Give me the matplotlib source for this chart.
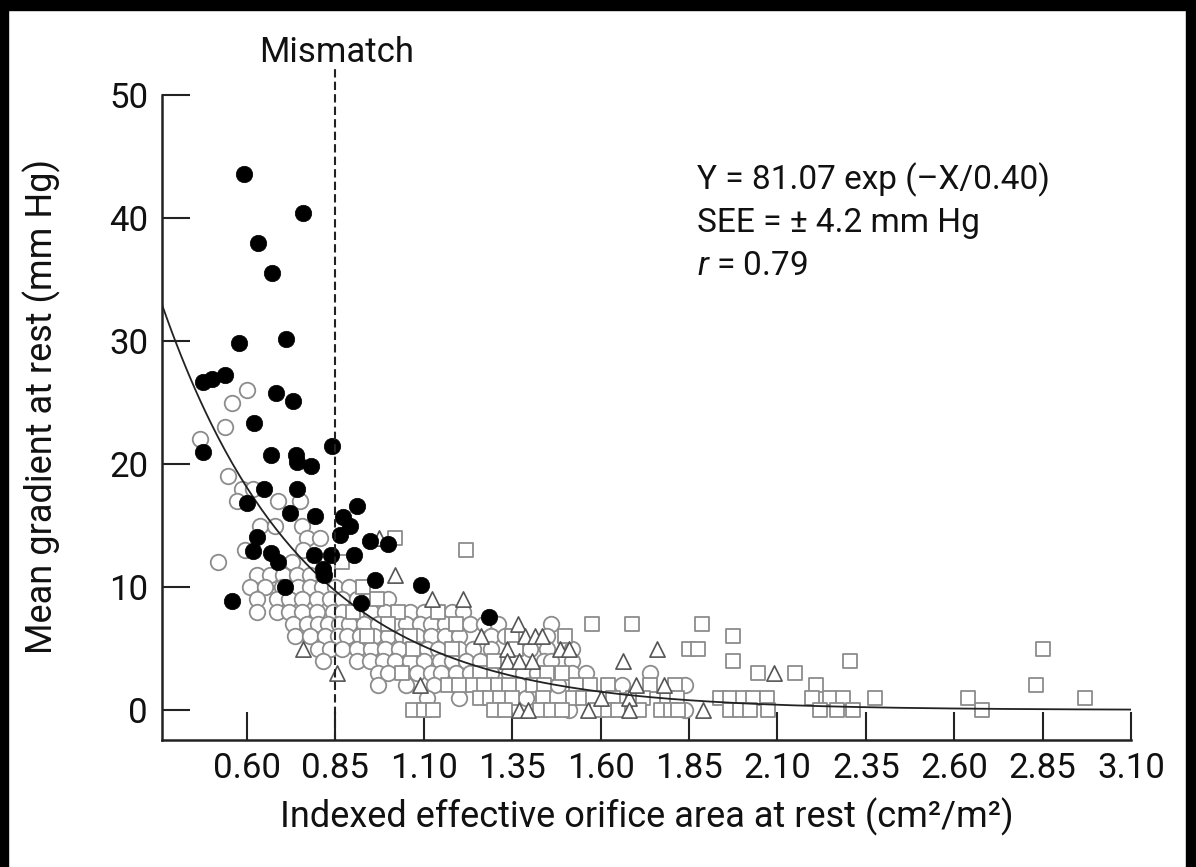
import numpy as np
import matplotlib
matplotlib.use("Agg")
import matplotlib.pyplot as plt
from matplotlib.patches import Rectangle

FONT = ['Roboto', 'DejaVu Sans']
plt.rcParams['font.family'] = FONT
plt.rcParams['mathtext.fontset'] = 'custom'
plt.rcParams['mathtext.rm'] = 'Roboto'
plt.rcParams['mathtext.it'] = 'Roboto:italic'

# ---------------- data ----------------
x_ticks = [0.60, 0.85, 1.10, 1.35, 1.60, 1.85, 2.10, 2.35, 2.60, 2.85, 3.10]
y_ticks = [0, 10, 20, 30, 40, 50]

fit_a = 81.07
fit_b = 0.40
mismatch_x = 0.85

# filled circles (mismatch patients)
filled_x = [0.592, 0.758, 0.631, 0.671, 0.577, 0.710, 0.476, 0.501, 0.538,
            0.682, 0.730, 0.620, 0.476, 0.840, 0.668, 0.739, 0.741, 0.781,
            0.648, 0.741, 0.600, 0.722, 0.792, 0.911, 0.872, 0.891, 0.863,
            0.948, 0.999, 0.628, 0.617, 0.668, 0.688, 0.789, 0.838, 0.903,
            0.815, 0.818, 0.707, 0.962, 1.092, 0.558, 0.922, 1.284]
filled_y = [43.6, 40.4, 38.0, 35.5, 29.8, 30.2, 26.7, 26.9, 27.2,
            25.8, 25.1, 23.3, 21.0, 21.5, 20.7, 20.7, 20.2, 19.8,
            18.0, 18.0, 16.8, 16.0, 15.8, 16.6, 15.7, 15.0, 14.2,
            13.7, 13.5, 14.1, 12.9, 12.8, 12.0, 12.6, 12.6, 12.6,
            11.5, 11.0, 10.0, 10.6, 10.2, 8.9, 8.7, 7.6]

# open circles: gradient row -> EOAi values
circle_rows = {
    26: [0.600], 25: [0.558], 23: [0.538], 22: [0.467], 19: [0.546],
    18: [0.586, 0.617], 17: [0.572, 0.750, 0.688],
    15: [0.637, 0.679, 0.756], 14: [0.770, 0.806],
    13: [0.594, 0.758], 12: [0.518, 0.727],
    11: [0.628, 0.665, 0.702, 0.741, 0.778, 0.815],
    10: [0.608, 0.651, 0.699, 0.744, 0.778, 0.812, 0.850, 0.890],
    9: [0.628, 0.685, 0.720, 0.757, 0.797, 0.835, 0.870, 0.910, 1.000],
    8: [0.628, 0.685, 0.720, 0.757, 0.797, 0.843, 0.870, 0.910, 0.950,
        0.990, 1.060, 1.100, 1.180, 1.210],
    7: [0.730, 0.770, 0.800, 0.830, 0.860, 0.890, 0.930, 0.970, 1.030,
        1.050, 1.090, 1.120, 1.160, 1.230, 1.270, 1.310, 1.460],
    6: [0.736, 0.778, 0.820, 0.857, 0.883, 0.920, 0.960, 1.000, 1.040,
        1.080, 1.120, 1.160, 1.200, 1.290, 1.330, 1.450],
    5: [0.800, 0.835, 0.870, 0.910, 0.950, 0.990, 1.030, 1.110, 1.140,
        1.200, 1.240, 1.290, 1.400, 1.450, 1.520],
    4: [0.815, 0.911, 0.948, 0.985, 1.020, 1.060, 1.100, 1.146, 1.180,
        1.220, 1.260, 1.440, 1.460, 1.520],
    3: [0.970, 1.000, 1.080, 1.120, 1.150, 1.190, 1.230, 1.290, 1.340,
        1.380, 1.420, 1.520, 1.560, 1.740],
    2: [0.970, 1.050, 1.130, 1.290, 1.370, 1.480, 1.660, 1.840],
    1: [1.110, 1.200, 1.390],
    0: [1.510, 1.840],
}

# open squares
square_rows = {
    14: [1.019], 13: [1.219], 12: [0.870], 10: [0.928], 9: [0.968],
    8: [0.900, 1.027, 1.140],
    7: [1.000, 1.190, 1.576, 1.690, 1.887],
    6: [0.940, 1.060, 1.350, 1.500, 1.975],
    5: [1.070, 1.180, 1.360, 1.850, 1.875, 2.850],
    4: [1.300, 1.975, 2.305],
    3: [1.040, 1.260, 1.450, 1.490, 2.045, 2.150],
    2: [1.170, 1.200, 1.240, 1.270, 1.310, 1.340, 1.410, 1.440, 1.530,
        1.570, 1.620, 1.740, 1.810, 2.210, 2.830],
    1: [1.259, 1.287, 1.315, 1.350, 1.437, 1.522, 1.550, 1.578,
        1.635, 1.692, 1.720, 1.788, 1.816, 1.938, 1.966, 2.003, 2.031,
        2.070, 2.198, 2.249, 2.286, 2.376, 2.640, 2.970],
    0: [1.070, 1.100, 1.126, 1.300, 1.330, 1.430, 1.460, 1.490, 1.590,
        1.620, 1.650, 1.710, 1.770, 1.800, 1.820, 1.966, 1.994, 2.022,
        2.073, 2.220, 2.268, 2.314, 2.680],
}

# open triangles
triangle_rows = {
    14: [0.973], 11: [1.020], 9: [1.123, 1.210], 7: [1.366],
    6: [1.262, 1.386, 1.414, 1.434],
    5: [0.758, 1.335, 1.485, 1.510, 1.760],
    4: [1.335, 1.370, 1.405, 1.663],
    3: [0.855, 2.090],
    2: [1.090, 1.700, 1.780],
    1: [1.600, 1.680],
    0: [1.370, 1.395, 1.565, 1.680, 1.890],
}


def flatten(rows):
    xs, ys = [], []
    for yv, xl in rows.items():
        for xv in xl:
            xs.append(xv)
            ys.append(yv)
    return xs, ys


# ---------------- figure ----------------
W, H = 1196, 867
fig = plt.figure(figsize=(W / 100, H / 100), dpi=100)
fig.patch.set_facecolor('white')

ybot = -30 / 12.3
ytop = (710 - 58) / 12.3
ax = fig.add_axes([162 / W, 1 - 740 / H, (1131 - 162) / W, (740 - 58) / H])
ax.set_xlim(0.36, 3.10)
ax.set_ylim(ybot, ytop)

cx, cy = flatten(circle_rows)
sx, sy = flatten(square_rows)
tx, ty = flatten(triangle_rows)

ax.scatter(cx, cy, s=125, marker='o', facecolors='white',
           edgecolors='#8c8c8c', linewidths=1.3, zorder=2, clip_on=False)
ax.scatter(sx, sy, s=100, marker='s', facecolors='white',
           edgecolors='#8c8c8c', linewidths=1.3, zorder=2, clip_on=False)
ax.scatter(tx, ty, s=120, marker='^', facecolors='white',
           edgecolors='#555555', linewidths=1.2, zorder=3, clip_on=False)

xc = np.linspace(0.36, 3.10, 400)
ax.plot(xc, fit_a * np.exp(-xc / fit_b), color='#222222', lw=1.3, zorder=4)

ax.scatter(filled_x, filled_y, s=140, marker='o', facecolors='black',
           edgecolors='black', linewidths=0.5, zorder=5)

ax.plot([mismatch_x, mismatch_x], [ybot, (710 - 66) / 12.3], color='#222222',
        lw=1.5, ls=(0, (4, 2)), zorder=6, clip_on=False)

for s in ['top', 'right']:
    ax.spines[s].set_visible(False)
for s in ['left', 'bottom']:
    ax.spines[s].set_linewidth(1.8)
    ax.spines[s].set_color('#222222')
ax.spines['left'].set_bounds(ybot, 50)

ax.set_xticks(x_ticks)
ax.set_xticklabels([f"{v:.2f}" for v in x_ticks])
ax.set_yticks(y_ticks)
ax.set_yticklabels([str(v) for v in y_ticks])
ax.tick_params(axis='both', direction='in', length=20, width=1.5,
               color='#222222', labelsize=25, labelcolor='#111111')
ax.tick_params(axis='x', pad=9)
ax.tick_params(axis='y', pad=10)

ax.set_xlabel("Indexed effective orifice area at rest (cm²/m²)", fontsize=26,
              color='#111111', labelpad=9)
ax.set_ylabel("Mean gradient at rest (mm Hg)", fontsize=26, color='#111111')
ax.yaxis.set_label_coords((42 - 162) / (1131 - 162), (740 - 406) / (740 - 58))
ax.yaxis.label.set_verticalalignment('center')

fig.text(337 / W, 1 - 52 / H, "Mismatch", ha='center', va='center',
         fontsize=25, color='#111111')

eq_lines = ["Y = 81.07 exp (\u2013X/0.40)", "SEE = \u00b1 4.2 mm Hg",
            "$r$ = 0.79"]
for i, t in enumerate(eq_lines):
    fig.text(697 / W, 1 - (180 + 43 * i) / H, t, ha='left', va='center',
             fontsize=24, color='#111111')

# black frame strips
fig.patches.append(Rectangle((0, 1 - 10 / H), 1, 10 / H,
                             transform=fig.transFigure, color='black', zorder=10))
fig.patches.append(Rectangle((0, 0), 8 / W, 1,
                             transform=fig.transFigure, color='black', zorder=10))
fig.patches.append(Rectangle((1 - 10 / W, 0), 10 / W, 1,
                             transform=fig.transFigure, color='black', zorder=10))

fig.savefig("out.png", dpi=100, facecolor='white')
